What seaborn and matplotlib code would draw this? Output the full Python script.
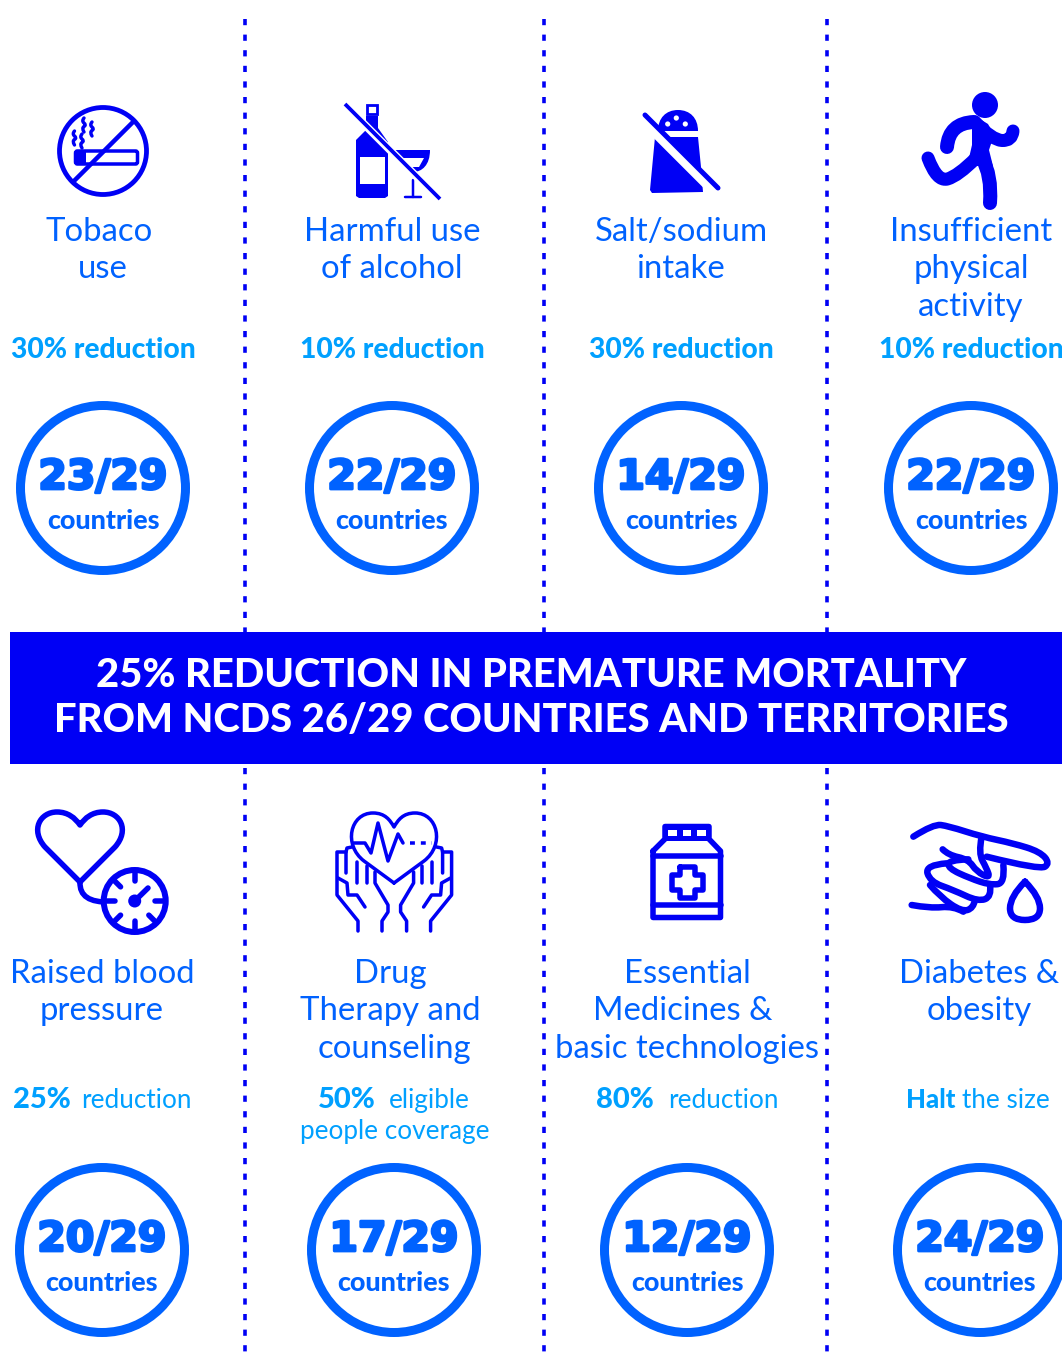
import numpy as np
import pandas as pd
import matplotlib.pyplot as plt
import matplotlib.patheffects as pe
import seaborn as sns
from matplotlib.patches import PathPatch, Circle, Polygon, Rectangle, FancyBboxPatch
from matplotlib.path import Path

# data
labels_top = [['Tobaco', 'use'], ['Harmful use', 'of alcohol'], ['Salt/sodium', 'intake'],
              ['Insufficient', 'physical', 'activity']]
labels_bottom = [['Raised blood', 'pressure'], ['Drug', 'Therapy and', 'counseling'],
                 ['Essential', 'Medicines &', 'basic technologies'], ['Diabetes &', 'obesity']]
targets_top = ['30% reduction', '10% reduction', '30% reduction', '10% reduction']
achieved_top = [23, 22, 14, 22]
achieved_bottom = [20, 17, 12, 24]
total_countries = 29
banner_lines = ['25% REDUCTION IN PREMATURE MORTALITY', 'FROM NCDS 26/29 COUNTRIES AND TERRITORIES']

# layout
col_top = [103, 392, 681, 971]
col_bottom = [102, 394, 687, 980]
label_x_top = [[99, 103], [392, 392], [681, 681], [971, 971, 971]]
label_x_bottom = [[102, 102], [390, 390, 394], [687, 683, 687], [979, 979]]
separators = [245, 544, 827]

BLUE = '#0000f5'
MID = '#0062ff'
LIGHT = '#00a0ff'
LABEL_FONT = ['Lato', 'DejaVu Sans']

sns.set_theme(style='white')
plt.rcParams['font.family'] = LABEL_FONT

fig = plt.figure(figsize=(10.62, 13.6), dpi=100)
ax = fig.add_axes([0, 0, 1, 1])
ax.set_xlim(0, 1062)
ax.set_ylim(1360, 0)
ax.axis('off')


def stroke(pts, lw=5.5, color=BLUE, z=5, cap='round'):
    pts = np.array(pts, dtype=float)
    ax.plot(pts[:, 0], pts[:, 1], color=color, lw=lw * 0.72, solid_capstyle=cap,
            solid_joinstyle='round', zorder=z)


def curve(pts, lw=5.5, color=BLUE, z=5):
    # quadratic spline through the midpoints
    pts = np.array(pts, dtype=float)
    verts = [pts[0]]
    codes = [Path.MOVETO]
    for i in range(1, len(pts) - 1):
        end = pts[i + 1] if i == len(pts) - 2 else (pts[i] + pts[i + 1]) / 2
        verts += [pts[i], end]
        codes += [Path.CURVE3, Path.CURVE3]
    ax.add_patch(PathPatch(Path(verts, codes), fc='none', ec=color, lw=lw * 0.72,
                           capstyle='round', joinstyle='round', zorder=z))


def bezier(start, segs, lw, fill=False):
    verts = [start]
    codes = [Path.MOVETO]
    for s in segs:
        if len(s) == 1:
            verts += s
            codes += [Path.LINETO]
        else:
            verts += s
            codes += [Path.CURVE4] * 3
    ax.add_patch(PathPatch(Path(verts, codes), fc=BLUE if fill else 'none', ec=BLUE, lw=lw * 0.72,
                           capstyle='round', joinstyle='round', zorder=5))


def no_smoking():
    ax.add_patch(Circle((103, 151), 43.5, fc='none', ec=BLUE, lw=4.8 * 0.72, zorder=5))
    stroke([(133, 122), (73, 182)], 4.5, cap='butt')
    ax.add_patch(FancyBboxPatch((75.5, 151), 62, 13, boxstyle='round,pad=0,rounding_size=2',
                                fc='none', ec=BLUE, lw=3.5 * 0.72, zorder=5))
    ax.add_patch(Rectangle((75.5, 151), 10, 13, fc=BLUE, ec=BLUE, lw=0, zorder=5))
    for x, y0 in [(84, 118), (92, 122), (74.5, 131), (82, 134)]:
        curve([(x, y0), (x - 2.5, y0 + 3), (x + 2.5, y0 + 7), (x - 2.5, y0 + 10), (x, y0 + 14)], 3.4)


def no_alcohol():
    ax.add_patch(Polygon([(366, 116), (378, 116), (378, 128), (388, 142), (388, 196), (385, 198),
                          (359, 198), (356, 196), (356, 140), (366, 130)], fc=BLUE, ec=BLUE, lw=0, zorder=4))
    ax.add_patch(Rectangle((359.5, 157), 25, 27, fc='white', ec='none', zorder=4))
    ax.add_patch(Rectangle((367, 105), 10, 9, fc='none', ec=BLUE, lw=2.8 * 0.72, zorder=4))
    bezier((395, 150), [[(430, 150)], [(430, 165), (422, 172), (413, 172)], [(404, 172), (397, 162), (395, 150)]], 0, True)
    ax.add_patch(Polygon([(401, 158), (424, 158), (419, 167), (408, 167)], fc='white', ec='none', zorder=5))
    stroke([(413, 180), (413, 197)], 2.5)
    stroke([(405, 197), (421, 197)], 2.5)
    stroke([(343, 103), (438, 198)], 8, color='white', z=5.5, cap='butt')
    stroke([(345, 104), (440, 199)], 3.8, z=6, cap='butt')


def no_salt():
    bezier((658, 131), [[(658, 118), (666, 110), (678, 110)], [(690, 110), (698, 118), (698, 131)], [(658, 131)]], 0, True)
    ax.add_patch(Polygon([(655, 137), (698, 137), (701, 167), (703, 192), (652, 193), (650, 190)],
                         fc=BLUE, ec=BLUE, lw=0, zorder=4))
    for x, y in [(667.7, 124), (676.3, 118), (685.3, 124)]:
        ax.add_patch(Circle((x, y), 2.6, fc='white', ec='none', zorder=6))
    stroke([(641, 119), (712, 190)], 9, color='white', z=5.5, cap='butt')
    stroke([(645, 115), (718, 188)], 5, z=6)


def runner():
    ax.add_patch(Circle((985, 105), 13, fc=BLUE, ec='none', zorder=5))
    ax.add_patch(Polygon([(964, 120), (975, 116), (988, 124), (994, 135), (989, 150), (993, 166),
                          (976, 166), (969, 158), (972, 145), (972, 128)], fc=BLUE, ec='none', zorder=5))
    curve([(947, 147), (949, 123), (974, 122)], 14)
    curve([(975, 122), (992, 140), (1012, 141), (1013, 131)], 13)
    curve([(928, 158), (937, 182), (958, 176), (976, 158)], 13)
    curve([(982, 158), (992, 175), (990, 203)], 14)


def heart_gauge():
    bezier((80, 882), [[(45, 847)], [(30, 830), (40, 812), (57, 812)], [(68, 812), (75, 818), (80, 825)],
                       [(85, 818), (92, 812), (103, 812)], [(120, 812), (130, 830), (115, 847)], [(80, 882)]], 5.5)
    curve([(80, 882), (79, 903), (110, 902)], 5.5)
    ax.add_patch(Circle((134.7, 901), 31, fc='white', ec=BLUE, lw=6 * 0.72, zorder=5.5))
    for a in [90, 135, 180, 225, 270, 315, 0]:
        c, s = np.cos(np.radians(a)), np.sin(np.radians(a))
        stroke([(134.7 + 20 * c, 901 - 20 * s), (134.7 + 29 * c, 901 - 29 * s)], 5.5, z=6)
    stroke([(134.7, 901), (148, 888)], 5.5, z=6)
    ax.add_patch(Circle((134.7, 901), 6.5, fc=BLUE, ec='none', zorder=6))


def heart_hands():
    bezier((394, 883), [[(364, 861)], [(343, 845), (350, 813), (373, 813)], [(385, 813), (390, 820), (394, 827)],
                        [(398, 820), (403, 813), (415, 813)], [(438, 813), (445, 845), (424, 861)], [(394, 883)]], 3.5)
    stroke([(354, 843), (365, 843), (371, 853), (378, 823), (388, 861), (398, 834), (403, 843)], 3.5, z=6)
    ax.plot([410, 432], [843, 843], color=BLUE, lw=3.5 * 0.72, ls=(0, (1.4, 1.7)), zorder=6)
    hand = [[(358, 931), (358, 921), (337, 895), (337, 852), (346, 852), (346, 873)],
            [(346, 852), (347, 848), (352, 847)],
            [(357, 862), (357, 883)], [(367, 866), (367, 883)],
            [(338, 878), (347, 883), (348, 895), (357, 895), (365, 907)],
            [(382, 931), (382, 921), (388, 912), (388, 905), (375, 883), (375, 872)]]
    for h in hand:
        stroke(h, 3.5)
        stroke([(788.6 - x, y) for x, y in h], 3.5)


def medicine():
    stroke([(653, 851), (665, 839), (665, 826.5), (709, 826.5), (709, 839), (720.5, 851), (720.5, 917.5),
            (653, 917.5), (653, 851)], 5.5)
    ax.add_patch(Rectangle((665, 826), 44, 12, fc=BLUE, ec='none', zorder=5))
    for x in [668, 682.5, 697]:
        ax.add_patch(Rectangle((x, 830), 8.5, 6, fc='white', ec='none', zorder=6))
    stroke([(665, 839), (709, 839)], 3)
    stroke([(653, 856), (720.5, 856)], 5.5)
    stroke([(653, 905), (720.5, 905)], 5.5)
    a, b = 7.5, 15.5
    cx, cy = 687, 882
    cross = [(-a, -b), (a, -b), (a, -a), (b, -a), (b, a), (a, a), (a, b), (-a, b), (-a, a), (-b, a), (-b, -a), (-a, -a), (-a, -b)]
    stroke([(cx + x, cy + y) for x, y in cross], 5.5)


def finger():
    def z4(p):
        return [(x / 3 + 620, y / 3 + 800) for x, y in p]
    curve(z4([(880, 110), (940, 72), (985, 78), (1085, 110), (1180, 130), (1260, 155), (1290, 190), (1260, 210), (1100, 170)]), 6.5)
    curve(z4([(1085, 110), (1075, 160), (1100, 205), (1110, 235), (1070, 215), (1045, 178), (985, 165), (968, 148)]), 6.5)
    curve(z4([(1150, 195), (1155, 250), (1110, 255), (1050, 235), (985, 205), (985, 180), (1045, 178)]), 6.5)
    curve(z4([(980, 190), (915, 195), (930, 245), (1000, 270), (1075, 305), (1115, 290), (1110, 255)]), 6.5)
    curve(z4([(930, 255), (960, 290), (1025, 335), (1060, 325), (1065, 300)]), 6.5)
    curve(z4([(875, 315), (930, 325), (1000, 318), (1030, 335)]), 6.5)
    curve(z4([(1215, 245), (1170, 290), (1170, 360), (1260, 360), (1260, 290), (1215, 245)]), 6.5)


# separators and banner
for x in separators:
    for y0, y1 in [(19, 632), (768, 1354)]:
        ax.plot([x, x], [y0, y1], color=BLUE, lw=3.6 * 0.72, ls=(0, (6.2 / 3.6, 9.4 / 3.6)),
                dash_capstyle='butt', zorder=1)
ax.add_patch(Rectangle((10, 632), 1052, 132, fc=BLUE, ec='none', zorder=2))
for line, y in zip(banner_lines, [687, 732]):
    ax.text(531, y, line, color='white', fontsize=28.8, fontweight='black', ha='center', va='baseline', zorder=3)

# labels
def put_labels(rows, xs, y0):
    for lines, row_x in zip(rows, xs):
        for i, line in enumerate(lines):
            ax.text(row_x[i], y0 + i * 37.5, line, color=MID, fontsize=23.7, ha='center', va='baseline', zorder=3)


put_labels(labels_top, label_x_top, 241)
put_labels(labels_bottom, label_x_bottom, 983)

for t, x in zip(targets_top, col_top):
    ax.text(x, 358, t, color=LIGHT, fontsize=20.3, fontweight='black', ha='center', va='baseline')

for bold, rest, xb, xr, y, bs in [('25%', 'reduction', 13, 81, 1108, 21), ('50%', 'eligible', 318, 389, 1108, 21),
                                  ('80%', 'reduction', 596, 668, 1108, 21), ('Halt', 'the size', 906, 962, 1108, 18.5)]:
    ax.text(xb, y, bold, color=LIGHT, fontsize=bs, fontweight='black', ha='left', va='baseline')
    ax.text(xr, y, rest, color=LIGHT, fontsize=18.8, ha='left', va='baseline')
ax.text(394.5, 1139, 'people coverage', color=LIGHT, fontsize=18.8, ha='center', va='baseline')

# count circles
circles = pd.DataFrame({'x': col_top + col_bottom, 'y': [488] * 4 + [1250] * 4,
                        'achieved': achieved_top + achieved_bottom})
sns.scatterplot(data=circles, x='x', y='y', s=(165 * 0.72) ** 2, facecolor='none', edgecolor=MID,
                linewidth=9 * 0.72, legend=False, ax=ax, zorder=3, clip_on=False)
ax.set_xlim(0, 1062)
ax.set_ylim(1360, 0)
ax.set_xlabel('')
ax.set_ylabel('')

for _, row in circles.iterrows():
    ax.text(row['x'], row['y'] + 1, f"{row['achieved']}/{total_countries}", color=MID, fontsize=29.5,
            fontweight='bold', family='DejaVu Sans', ha='center', va='baseline', zorder=4,
            path_effects=[pe.withStroke(linewidth=2, foreground=MID)])
    ax.text(row['x'], row['y'] + 41, 'countries', color=MID, fontsize=19.4, fontweight='black',
            ha='center', va='baseline', zorder=4)

no_smoking()
no_alcohol()
no_salt()
runner()
heart_gauge()
heart_hands()
medicine()
finger()

fig.savefig('out.png', dpi=100)
